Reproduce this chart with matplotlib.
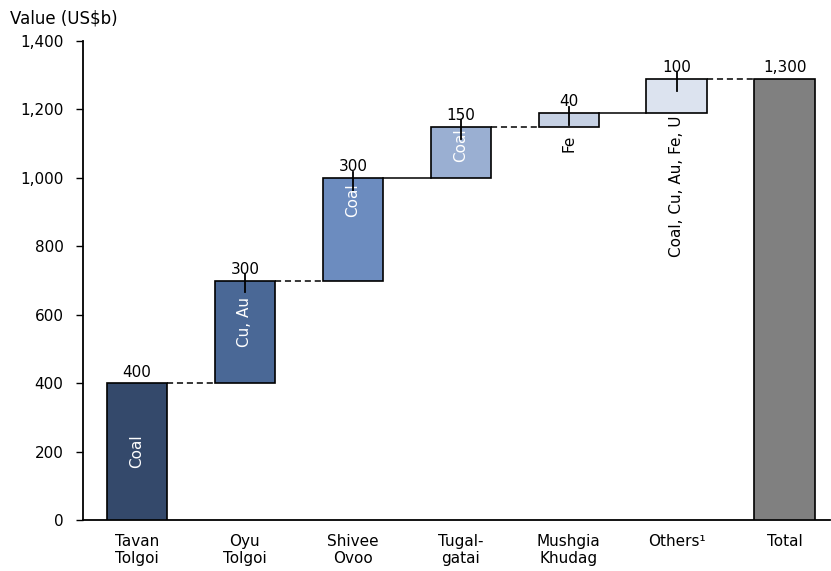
import matplotlib
matplotlib.use("Agg")
import matplotlib.pyplot as plt
import numpy as np

plt.rcParams.update({"font.family": ["DejaVu Sans"], "font.size": 11})

# data
names = ["Tavan\nTolgoi", "Oyu\nTolgoi", "Shivee\nOvoo", "Tugal-\ngatai",
         "Mushgia\nKhudag", "Others¹", "Total"]
steps = [400, 300, 300, 150, 40, 100]
labels = ["400", "300", "300", "150", "40", "100", "1,300"]
minerals = ["Coal", "Cu, Au", "Coal", "Coal", "Fe", "Coal, Cu, Au, Fe, U"]
colors = ["#34496b", "#4a6896", "#6c8cbf", "#9aafd2", "#c6d1e4", "#dce3ef", "#808080"]
link_dashed = [True, True, False, True, False, True]

# mineral label placement: (anchor, offset below anchor in value units)
mineral_place = [("center", 0), ("top", 47), ("top", 15), ("top", 4),
                 ("below", 23), ("below", 9)]

bottoms = np.concatenate([[0], np.cumsum(steps)[:-1]])
tops = bottoms + np.array(steps)
total = tops[-1]

fig = plt.figure(figsize=(8.31, 5.71), dpi=100)
ax = fig.add_axes([83 / 831, 51 / 571, 747 / 831, 479 / 571])
x = np.arange(len(names))
w = 0.56

ax.bar(x[:-1], steps, w, bottom=bottoms, color=colors[:-1],
       edgecolor="black", lw=1.2, zorder=3)
ax.bar(x[-1], total, w, color=colors[-1], edgecolor="black", lw=1.2, zorder=3)

# connectors
for i in range(len(steps)):
    ax.plot([x[i] + w / 2, x[i + 1] - w / 2], [tops[i], tops[i]], color="black",
            lw=1.1, ls=(0, (4, 2.5)) if link_dashed[i] else "-", zorder=2)

# mineral labels
for i, m in enumerate(minerals):
    pos, off = mineral_place[i]
    if pos == "center":
        ax.text(x[i], (bottoms[i] + tops[i]) / 2, m, rotation=90, ha="center",
                va="center", color="white", zorder=4)
    elif pos == "top":
        ax.text(x[i], tops[i] - off, m, rotation=90, ha="center", va="top",
                color="white", zorder=4)
    else:
        ax.text(x[i], bottoms[i] - off, m, rotation=90, ha="center", va="top",
                color="black", zorder=4)

# value labels + small ticks
for i, lab in enumerate(labels):
    top = tops[i] if i < len(steps) else total
    ax.text(x[i], top + 10, lab, ha="center", va="bottom", zorder=6)
    if 0 < i < len(steps):
        ax.plot([x[i], x[i]], [top + 18, top - 35], color="black", lw=1.3, zorder=5)

ax.set_xlim(-0.5, 6.42)
ax.set_ylim(0, 1400)
ax.set_yticks(np.arange(0, 1401, 200))
ax.set_yticklabels([f"{v:,}" for v in range(0, 1401, 200)])
ax.set_xticks(x)
ax.set_xticklabels(names, linespacing=1.2)
ax.tick_params(axis="x", length=0, pad=10)
ax.tick_params(axis="y", length=5, width=1, pad=9)
for s in ["top", "right"]:
    ax.spines[s].set_visible(False)
ax.spines["left"].set_linewidth(1.3)
ax.spines["bottom"].set_linewidth(1.3)

fig.text(10 / 831, 1 - 18 / 571, "Value (US$b)", fontsize=12, va="center")
fig.savefig("out.png", dpi=100)
